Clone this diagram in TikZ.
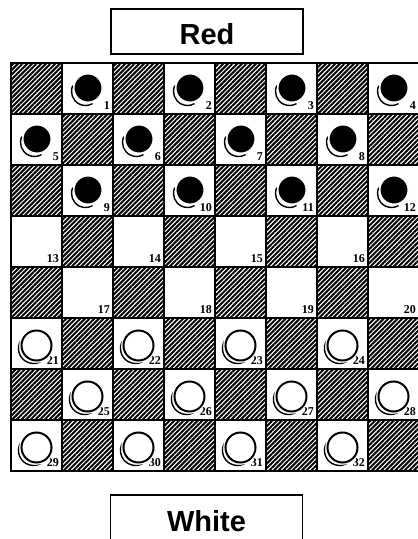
\documentclass[tikz,border=0pt]{standalone}
\usepackage{fontspec}
\setmainfont{Liberation Serif}
\newfontfamily\boxfont{Liberation Sans}
\usetikzlibrary{patterns.meta}

\begin{document}
\begin{tikzpicture}[
    x=1pt, y=1pt,
    light/.style={rectangle, draw, line width=2pt, fill=white, minimum size=51pt, inner sep=0pt},
    dark/.style={light, pattern={Lines[angle=45, distance=3.3pt, line width=2pt]}},
    sidebox/.style={rectangle, draw, line width=1.2pt, minimum width=192pt, minimum height=45pt, inner sep=0pt, font=\boxfont\bfseries\fontsize{29}{29}\selectfont, text height=27pt, text depth=0pt},
    num/.style={font=\bfseries\fontsize{12}{12}\selectfont, inner sep=0pt, anchor=base east},
    redman/.style={fill=black, draw=white, line width=1.4pt},
    whiteman/.style={fill=white, draw=black, line width=2pt},
    rim/.style={line width=1.4pt},
]
\clip (0,0) rectangle (418,539);

% Players
\node[sidebox] (red) at (207,507.5) {Red};
\node[sidebox] (white) at (206.5,21.5) {White};

% Board
\foreach \r in {0,...,7}
  \foreach \c in {0,...,7} {
    \pgfmathtruncatemacro{\odd}{mod(\r+\c,2)}
    \ifnum\odd=0
      \node[dark] (sq-\r-\c) at ({36.5+51*\c},{450.5-51*\r}) {};
    \else
      \node[light] (sq-\r-\c) at ({36.5+51*\c},{450.5-51*\r}) {};
    \fi
  }

% Pieces and square numbers
\foreach \n in {1,...,32} {
  \pgfmathtruncatemacro{\r}{int((\n-1)/4)}
  \pgfmathtruncatemacro{\c}{2*mod(\n-1,4)+1-mod(\r,2)}
  \node[num] (num-\n) at ([xshift=-4pt, yshift=5pt]sq-\r-\c.south east) {\n};
  \ifnum\r<3
    \draw[rim] ([shift={(-2,-3)}]sq-\r-\c.center) ++(155:14) arc[start angle=155, end angle=300, radius=14];
    \draw[redman] ([shift={(0.5,0.5)}]sq-\r-\c.center) circle[radius=14.2];
  \fi
  \ifnum\r>4
    \draw[rim] ([shift={(-3,-5)}]sq-\r-\c.center) ++(150:15) arc[start angle=150, end angle=300, radius=15];
    \draw[white, line width=4.5pt] ([shift={(0,-2)}]sq-\r-\c.center) circle[radius=15];
    \draw[whiteman] ([shift={(0,-2)}]sq-\r-\c.center) circle[radius=15];
  \fi
}
\end{tikzpicture}
\end{document}
